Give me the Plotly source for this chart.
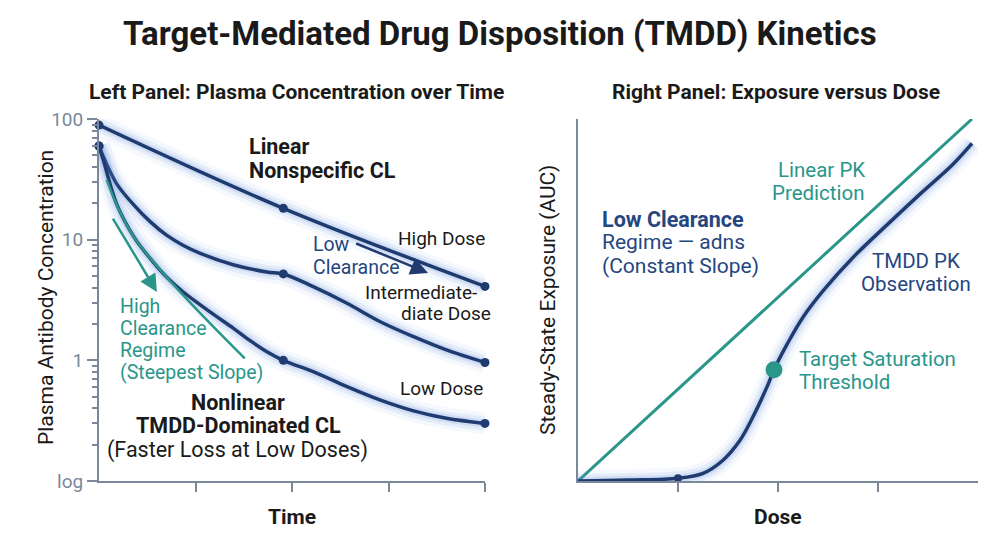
import numpy as np
import plotly.graph_objects as go

# the page body adds an 8px margin, so the figure is 8px smaller than the window
OFF = 8
W, H = 1000 - OFF, 545 - OFF
NAVY = "#1f3b70"
NAVY_TXT = "#25467f"
TEAL = "#2a968a"
AXIS = "#7b889b"
FONT = "Roboto"

# ---- left panel: plasma concentration over time (log scale) ----
t_high = [0, 1.91, 4.0]
c_high = [89, 18.2, 4.1]
t_mid = [0, 0.045, 0.18, 0.36, 0.53, 0.70, 0.87, 1.05, 1.39, 1.74, 1.91,
         2.22, 2.57, 2.91, 3.26, 3.60, 4.0]
c_mid = [59.7, 48.8, 29.3, 19.4, 14.1, 10.9, 9.0, 7.7, 6.2, 5.4, 5.2,
         4.08, 2.97, 2.10, 1.57, 1.22, 0.96]
t_low = [0, 0.045, 0.18, 0.36, 0.53, 0.70, 0.87, 1.05, 1.22, 1.39, 1.57, 1.74, 1.91,
         2.22, 2.57, 2.91, 3.26, 3.60, 4.0]
c_low = [59.7, 45.7, 20.0, 10.6, 7.0, 4.9, 3.7, 2.88, 2.30, 1.85, 1.45, 1.18, 1.0,
         0.805, 0.605, 0.47, 0.381, 0.331, 0.30]
t_dots = [0, 1.91, 4.0]
t_tangent = [0.08, 0.36, 1.51]
c_tangent = [31.3, 10.6, 1.04]
conc_ticks = [0.1, 1, 10, 100]
conc_labels = ["log", "1", "10", "100"]
time_ticks = [1, 2, 3, 4]

# ---- right panel: exposure versus dose ----
dose_lin = [0, 3.94]
auc_lin = [0, 4.0]
dose_tmdd = [0, 0.5, 1.0, 1.25, 1.45, 1.62, 1.75, 1.89, 1.96, 2.09, 2.25,
             2.45, 2.75, 3.09, 3.42, 3.75, 3.94]
auc_tmdd = [0, 0.01, 0.03, 0.085, 0.23, 0.45, 0.71, 1.04, 1.23, 1.51, 1.81,
            2.10, 2.47, 2.83, 3.17, 3.50, 3.73]
onset = (1.0, 0.03)
saturation = (1.96, 1.23)
dose_ticks = [1, 2, 3]


def px(x):
    return (x - OFF) / W


def py(y):
    return 1 - (y - OFF) / H


def glow_line(fig, x, y, xa, ya, shape="spline"):
    for w, a in [(22, 0.06), (14, 0.10), (8, 0.16)]:
        fig.add_trace(go.Scatter(x=x, y=y, mode="lines", xaxis=xa, yaxis=ya,
                                 line=dict(color=f"rgba(90,135,220,{a})", width=w, shape=shape),
                                 hoverinfo="skip", showlegend=False))
    fig.add_trace(go.Scatter(x=x, y=y, mode="lines", xaxis=xa, yaxis=ya,
                             line=dict(color=NAVY, width=3.5, shape=shape),
                             showlegend=False, cliponaxis=False))


fig = go.Figure()

for t, c in [(t_high, c_high), (t_mid, c_mid), (t_low, c_low)]:
    glow_line(fig, t, c, "x", "y")
    dots = [(ti, ci) for ti, ci in zip(t, c) if ti in t_dots]
    fig.add_trace(go.Scatter(x=[d[0] for d in dots], y=[d[1] for d in dots], mode="markers",
                             marker=dict(color=NAVY, size=9), showlegend=False, cliponaxis=False))

fig.add_trace(go.Scatter(x=t_tangent, y=c_tangent, mode="lines",
                         line=dict(color=TEAL, width=2.5, shape="spline"), showlegend=False))

# right panel
fig.add_trace(go.Scatter(x=dose_lin, y=auc_lin, mode="lines", xaxis="x2", yaxis="y2",
                         line=dict(color=TEAL, width=3), showlegend=False, cliponaxis=False))
glow_line(fig, dose_tmdd, auc_tmdd, "x2", "y2")
fig.add_trace(go.Scatter(x=[onset[0]], y=[onset[1]], mode="markers", xaxis="x2", yaxis="y2",
                         marker=dict(color=NAVY, size=8), showlegend=False, cliponaxis=False))
fig.add_trace(go.Scatter(x=[saturation[0]], y=[saturation[1]], mode="markers", xaxis="x2", yaxis="y2",
                         marker=dict(color=TEAL, size=17), showlegend=False, cliponaxis=False))

ydom = [py(481), py(119)]
minor_vals = [m * 10.0 ** e for e in (-1, 0, 1) for m in range(2, 10)]

fig.update_layout(
    width=W, height=H,
    margin=dict(l=0, r=0, t=0, b=0, autoexpand=False),
    paper_bgcolor="white", plot_bgcolor="white",
    font=dict(family=FONT, color="#1a1a1a"),
    xaxis=dict(domain=[px(99), px(485)], range=[0, 4], showgrid=False, zeroline=False,
               showline=True, linecolor=AXIS, linewidth=2, ticks="outside", ticklen=9,
               tickwidth=2, tickcolor=AXIS, tickvals=time_ticks, showticklabels=False),
    yaxis=dict(domain=ydom, type="log", range=[-1, 2], showgrid=False, zeroline=False,
               showline=True, linecolor=AXIS, linewidth=2, ticks="outside", ticklen=10,
               tickwidth=2, tickcolor=AXIS, tickvals=conc_ticks, ticktext=conc_labels,
               tickfont=dict(size=19, color=AXIS, family=FONT),
               minor=dict(tickmode="array", tickvals=minor_vals, ticks="outside",
                          ticklen=5, tickwidth=1.5, tickcolor=AXIS)),
    xaxis2=dict(domain=[px(578), px(978)], range=[0, 4], showgrid=False, zeroline=False,
                showline=True, linecolor=AXIS, linewidth=2, ticks="outside", ticklen=9,
                tickwidth=2, tickcolor=AXIS, tickvals=dose_ticks, showticklabels=False,
                anchor="y2"),
    yaxis2=dict(domain=ydom, range=[0, 4], showgrid=False, zeroline=False,
                showline=True, linecolor=AXIS, linewidth=2, showticklabels=False,
                anchor="x2"),
)


def note(lines, x, y, size=19, color="#1a1a1a", bold=False, xanchor="left", gap=None):
    # one annotation per line so the line spacing matches the reference
    if isinstance(lines, str):
        lines = [lines]
    gap = gap or size * 1.12
    for i, line in enumerate(lines):
        text = f"<b>{line}</b>" if bold else line
        fig.add_annotation(text=text, x=px(x), y=py(y + i * gap), xref="paper", yref="paper",
                           xanchor=xanchor, yanchor="middle", showarrow=False,
                           font=dict(size=size, color=color, family=FONT))


# titles
note("Target-Mediated Drug Disposition (TMDD) Kinetics", 500, 33, size=33, bold=True, xanchor="center")
note("Left Panel: Plasma Concentration over Time", 296, 92, size=21, bold=True, xanchor="center")
note("Right Panel: Exposure versus Dose", 776, 92, size=21, bold=True, xanchor="center")
note("Time", 292, 517, size=21, bold=True, xanchor="center")
note("Dose", 778, 517, size=21, bold=True, xanchor="center")
fig.add_annotation(text="Plasma Antibody Concentration", x=px(32), y=py(298), xref="paper", yref="paper",
                   textangle=-90, showarrow=False, font=dict(size=21, color="#1a1a1a", family=FONT))
fig.add_annotation(text="Steady-State Exposure (AUC)", x=px(548), y=py(300), xref="paper", yref="paper",
                   textangle=-90, showarrow=False, font=dict(size=21, color="#1a1a1a", family=FONT))

# left panel labels
note(["Linear", "Nonspecific CL"], 247, 146, size=21.5, bold=True, gap=24.7)
note("High Dose", 487, 238, xanchor="right")
note(["Low", "Clearance"], 311, 245, color=NAVY_TXT, size=19.5, gap=22)
note("Intermediate-", 363, 292)
note("diate Dose", 493, 313, xanchor="right")
note(["High", "Clearance", "Regime", "(Steepest Slope)"], 118, 306, color=TEAL, size=19.5, gap=22.2)
note("Low Dose", 485, 388, xanchor="right")
note(["Nonlinear", "TMDD-Dominated CL"], 238, 402, size=21.5, bold=True, xanchor="center", gap=23.5)
note("(Faster Loss at Low Doses)", 237, 450, size=21.5, xanchor="center")

# arrows (left panel, log axis -> log10 coordinates)
fig.add_annotation(x=3.41, y=np.log10(5.3), ax=2.65, ay=np.log10(9.4), xref="x", yref="y",
                   axref="x", ayref="y", showarrow=True, arrowhead=2, arrowsize=1.4,
                   arrowwidth=2.5, arrowcolor=NAVY, text="")
fig.add_annotation(x=0.60, y=np.log10(3.69), ax=0.135, ay=np.log10(15.4), xref="x", yref="y",
                   axref="x", ayref="y", showarrow=True, arrowhead=2, arrowsize=1.4,
                   arrowwidth=2.5, arrowcolor=TEAL, text="")

# right panel labels
note(["Linear PK", "Prediction"], 867, 170, color=TEAL, xanchor="right", size=20.5, gap=23.3)
note("Low Clearance", 600, 219, color=NAVY_TXT, size=21.5, bold=True)
note(["Regime — adns", "(Constant Slope)"], 600, 242, color=NAVY_TXT, size=21, gap=23.5)
note(["TMDD PK", "Observation"], 916, 261, color=NAVY_TXT, xanchor="center", size=20.5, gap=23.3)
note(["Target Saturation", "Threshold"], 797, 359, color=TEAL, size=20.5, gap=22.5)

fig.write_html("out.html")
